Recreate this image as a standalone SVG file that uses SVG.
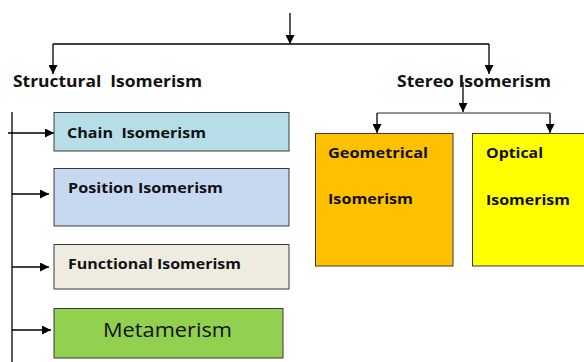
<svg xmlns="http://www.w3.org/2000/svg" width="584" height="362" viewBox="0 0 584 362">
<style>
.t{font-family:"Open Sans","Liberation Sans",sans-serif;font-weight:bold;fill:#111}
.h{font-size:16.5px}
.n{font-size:14.5px}
.box{stroke:#3a3a3a;stroke-width:1}
.c{fill:none;stroke:#000;stroke-width:1.3}
.g{fill:none;stroke:#6e6e6e;stroke-width:1.5}
</style>
<defs>
<marker id="ah2" viewBox="0 0 10 10" refX="10" refY="5" markerWidth="9" markerHeight="9" markerUnits="userSpaceOnUse" orient="auto"><path d="M0,0 L10,5 L0,10 z" fill="#000"/></marker>
</defs>
<rect width="584" height="362" fill="#fff"/>
<g id="connectors">
<path class="c" d="M290,13 V44" marker-end="url(#ah2)"/>
<path class="c" d="M53,44 H489"/>
<path class="c" d="M53,44 V74" marker-end="url(#ah2)"/>
<path class="c" d="M489,44 V74" marker-end="url(#ah2)"/>
<path class="c" d="M463,82 V112" marker-end="url(#ah2)"/>
<path class="g" d="M377,113 H550"/>
<path class="c" d="M377,113 V133" marker-end="url(#ah2)"/>
<path class="c" d="M550,113 V133" marker-end="url(#ah2)"/>
<path class="c" d="M12,112 V362"/>
<path class="c" d="M8,133 H54" marker-end="url(#ah2)"/>
<path class="c" d="M12,194 H49" marker-end="url(#ah2)"/>
<path class="c" d="M12,267 H49" marker-end="url(#ah2)"/>
<path class="c" d="M12,330 H51" marker-end="url(#ah2)"/>
</g>
<g id="structural"><text class="t h" x="13" y="87" xml:space="preserve" textLength="189" lengthAdjust="spacingAndGlyphs">Structural  Isomerism</text></g>
<g id="stereo"><text class="t h" x="397" y="87" textLength="154" lengthAdjust="spacingAndGlyphs">Stereo Isomerism</text></g>
<g id="chain"><rect class="box" x="54" y="112.5" width="235" height="38.5" fill="#B7DEE8"/><text class="t n" x="67" y="138" xml:space="preserve" textLength="139" lengthAdjust="spacingAndGlyphs">Chain  Isomerism</text></g>
<g id="position"><rect class="box" x="54" y="168.5" width="235" height="57.5" fill="#C6D9F1"/><text class="t n" x="68" y="193" textLength="155" lengthAdjust="spacingAndGlyphs">Position Isomerism</text></g>
<g id="functional"><rect class="box" x="54" y="244.5" width="235" height="44.5" fill="#EEECE1"/><text class="t n" x="68" y="269" textLength="173" lengthAdjust="spacingAndGlyphs">Functional Isomerism</text></g>
<g id="metamerism"><rect class="box" x="54" y="308.5" width="229" height="49.5" fill="#92D050"/><text x="103" y="337" font-family="'Open Sans','Liberation Sans',sans-serif" font-size="19.5" fill="#111" textLength="129" lengthAdjust="spacingAndGlyphs">Metamerism</text></g>
<g id="geometrical"><rect class="box" x="315.5" y="133.5" width="137.5" height="132.5" fill="#FFC000"/><text class="t n" x="328" y="158" textLength="100" lengthAdjust="spacingAndGlyphs">Geometrical</text><text class="t n" x="328" y="204" textLength="85" lengthAdjust="spacingAndGlyphs">Isomerism</text></g>
<g id="optical"><rect class="box" x="472.5" y="133.5" width="120" height="132.5" fill="#FFFF00"/><text class="t n" x="486" y="158" textLength="57" lengthAdjust="spacingAndGlyphs">Optical</text><text class="t n" x="486" y="205" textLength="84" lengthAdjust="spacingAndGlyphs">Isomerism</text></g>
</svg>
